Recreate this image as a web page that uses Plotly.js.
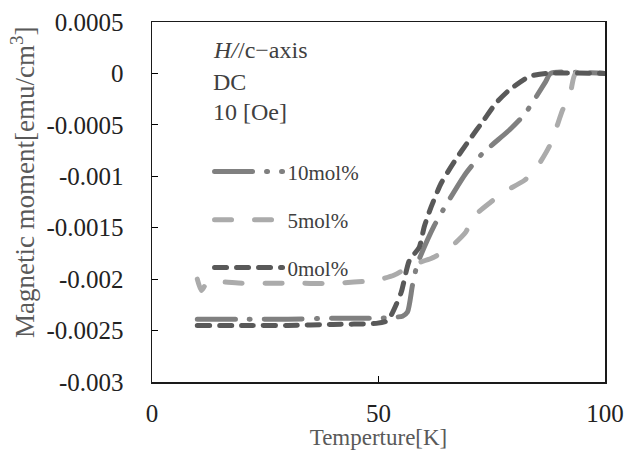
<!DOCTYPE html>
<html>
<head>
<meta charset="utf-8">
<script src="https://cdn.plot.ly/plotly-3.0.1.min.js"></script>
<style>
body{margin:0;padding:0;background:#fff;}
#chart{width:626px;height:450px;}
.scatterlayer path.js-line, .legendlines path.js-line{stroke-linecap:round;}
</style>
</head>
<body>
<div id="chart"></div>
<script>
// Temperature [K] and magnetic moment [emu/cm^3]
const t10 = [10, 20, 30, 40, 50, 53.5, 55.3, 56.4, 57.5, 58.6, 62.3, 64.9, 69.3, 72.9, 78.9, 82.2, 86.9, 88, 100];
const m10 = [-0.00239, -0.00239, -0.00239, -0.00238, -0.00238, -0.00237, -0.00236, -0.00232, -0.00206, -0.00185, -0.00148, -0.00128, -0.00097, -0.00078, -0.00055, -0.0004, -0.00008, 0, 0];

const t5 = [10, 10.9, 12.3, 20, 30, 40, 49.5, 53.5, 57.5, 61.6, 65.6, 69.3, 70.8, 74.8, 77.8, 82.2, 85, 87.7, 89.1, 90.6, 92.4, 93.5, 100];
const m5 = [-0.00200, -0.00211, -0.00203, -0.00204, -0.00204, -0.00204, -0.00201, -0.00196, -0.00186, -0.0018, -0.0017, -0.00154, -0.0014, -0.00125, -0.00115, -0.00104, -0.00091, -0.00071, -0.00055, -0.00036, -0.00018, 0, 0];

const t0 = [10, 20, 30, 40, 49.5, 51.7, 52.8, 55, 56.8, 59, 60.1, 61.6, 63.8, 66.7, 70, 73.3, 75.9, 78.9, 83.3, 86.9, 100];
const m0 = [-0.00245, -0.00245, -0.00245, -0.00244, -0.00243, -0.00241, -0.00235, -0.00213, -0.00182, -0.00169, -0.00149, -0.0013, -0.00107, -0.00086, -0.00065, -0.00045, -0.00029, -0.00016, -0.00003, 0, 0];

const names = ['10mol%', '5mol%', '0mol%'];
const yTicks = [0.0005, 0, -0.0005, -0.001, -0.0015, -0.002, -0.0025, -0.003];
const yTickText = ['0.0005', '0', '-0.0005', '-0.001', '-0.0015', '-0.002', '-0.0025', '-0.003'];
const xTicks = [0, 50, 100];
const notes = ['<i>H/</i>/c−axis', 'DC', '10 [Oe]'];
const yTitle = 'Magnetic moment[emu/cm<sup>3</sup>]';
const xTitle = 'Temperture[K]';

const serif = 'Liberation Serif, DejaVu Serif, serif';

const traces = [
  {x: t10, y: m10, name: names[0], mode: 'lines', legend: 'legend',
   line: {color: '#808080', width: 5, dash: '38px,14px,1px,14px', shape: 'spline', smoothing: 0.6}},
  {x: t5, y: m5, name: names[1], mode: 'lines', legend: 'legend2',
   line: {color: '#ababab', width: 5, dash: '17px,23px', shape: 'spline', smoothing: 0.6}},
  {x: t0, y: m0, name: names[2], mode: 'lines', legend: 'legend3',
   line: {color: '#595959', width: 5, dash: '12px,10px', shape: 'spline', smoothing: 0.6}}
];

const legBase = {
  font: {family: serif, size: 21, color: '#404040'},
  bgcolor: 'rgba(0,0,0,0)', borderwidth: 0,
  xanchor: 'left', yanchor: 'middle', itemwidth: 68
};

const noteY = [0.922, 0.834, 0.751];

const annotations = notes.map((t, i) => ({
  text: t, x: 0.13, y: noteY[i], xref: 'paper', yref: 'paper',
  xanchor: 'left', yanchor: 'middle', showarrow: false,
  font: {family: serif, size: 24, color: '#404040'}
}));
annotations.push({
  text: yTitle, x: -0.285, y: 0.555, xref: 'paper', yref: 'paper',
  xanchor: 'center', yanchor: 'middle', textangle: -90, showarrow: false,
  font: {family: serif, size: 27, color: '#595959'}
});

const layout = {
  width: 626, height: 450,
  margin: {l: 152, r: 21, t: 22, b: 68},
  paper_bgcolor: '#ffffff', plot_bgcolor: '#ffffff',
  showlegend: true,
  legend: Object.assign({}, legBase, {x: 0.127, y: 0.584}),
  legend2: Object.assign({}, legBase, {x: 0.127, y: 0.45}),
  legend3: Object.assign({}, legBase, {x: 0.127, y: 0.317}),
  xaxis: {
    range: [0, 100], tickvals: xTicks, ticktext: xTicks.map(String),
    ticks: 'inside', ticklen: 6, tickcolor: '#000', tickwidth: 1,
    showline: true, linecolor: '#1a1a1a', linewidth: 1.5, mirror: true,
    showgrid: false, zeroline: false, ticklabelstandoff: 8,
    tickfont: {family: serif, size: 25, color: '#222222'},
    title: {text: xTitle, font: {family: serif, size: 23, color: '#595959'}}
  },
  yaxis: {
    range: [-0.003, 0.0005], tickvals: yTicks, ticktext: yTickText,
    ticks: 'inside', ticklen: 6, tickcolor: '#000', tickwidth: 1,
    showline: true, linecolor: '#1a1a1a', linewidth: 1.5, mirror: true,
    showgrid: false, zeroline: false, ticklabelstandoff: 22,
    tickfont: {family: serif, size: 25, color: '#222222'}
  },
  annotations: annotations
};

Plotly.newPlot('chart', traces, layout, {staticPlot: true, displayModeBar: false});
</script>
</body>
</html>
